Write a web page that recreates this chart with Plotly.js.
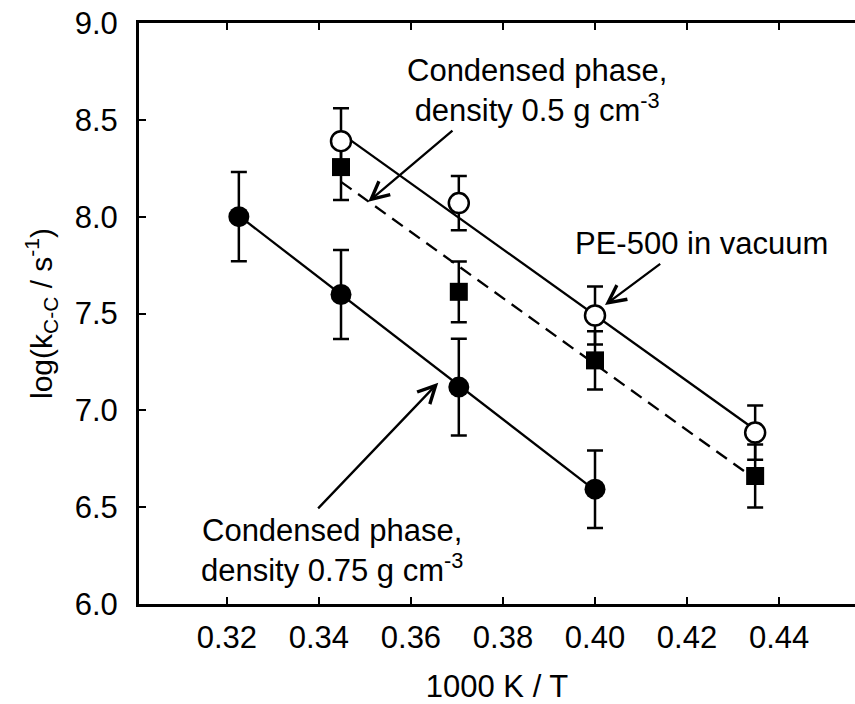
<!DOCTYPE html>
<html>
<head>
<meta charset="utf-8">
<script src="https://cdn.plot.ly/plotly-3.0.1.min.js"></script>
<style>html,body{margin:0;padding:0;background:#fff;}#chart{width:855px;height:704px;}</style>
</head>
<body>
<div id="chart"></div>
<script>
// 1000 K / T values
var xVac = [0.3448, 0.3704, 0.4000, 0.4348];
var yVac = [8.39, 8.07, 7.49, 6.885];
var eVac = [0.17, 0.14, 0.15, 0.14];

var xD05 = [0.3448, 0.3704, 0.4000, 0.4348];
var yD05 = [8.256, 7.612, 7.258, 6.661];
var eD05 = [0.17, 0.157, 0.15, 0.163];

var xD075 = [0.3226, 0.3448, 0.3704, 0.4000];
var yD075 = [8.00, 7.598, 7.12, 6.593];
var eD075 = [0.23, 0.23, 0.25, 0.20];

// fitted lines (end points)
var fitVacX = [0.3448, 0.4348];
var fitVacY = [8.43, 6.90];
var fitD05X = [0.3448, 0.4348];
var fitD05Y = [8.18, 6.645];
var fitD075X = [0.3226, 0.4000];
var fitD075Y = [8.005, 6.587];

var xTicks = [0.32, 0.34, 0.36, 0.38, 0.40, 0.42, 0.44];
var xTickText = ['0.32', '0.34', '0.36', '0.38', '0.40', '0.42', '0.44'];
var yTicks = [6.0, 6.5, 7.0, 7.5, 8.0, 8.5, 9.0];
var yTickText = ['6.0', '6.5', '7.0', '7.5', '8.0', '8.5', '9.0'];

var FONT = 'Arial, "Liberation Sans", Helvetica, sans-serif';

var traces = [
  {x: fitVacX, y: fitVacY, mode: 'lines', line: {color: '#000', width: 2.3}, hoverinfo: 'skip'},
  {x: fitD05X, y: fitD05Y, mode: 'lines', line: {color: '#000', width: 2.3, dash: '13px,8px'}, hoverinfo: 'skip'},
  {x: fitD075X, y: fitD075Y, mode: 'lines', line: {color: '#000', width: 2.3}, hoverinfo: 'skip'},
  {x: xD05, y: yD05, mode: 'markers', marker: {symbol: 'square', size: 18, color: '#000'},
   error_y: {type: 'data', array: eD05, visible: true, color: '#000', thickness: 2.5, width: 8}},
  {x: xVac, y: yVac, mode: 'markers', marker: {symbol: 'circle', size: 20, color: '#fff', line: {color: '#000', width: 2.5}},
   error_y: {type: 'data', array: eVac, visible: true, color: '#000', thickness: 2.5, width: 8}},
  {x: xD075, y: yD075, mode: 'markers', marker: {symbol: 'circle', size: 21, color: '#000'},
   error_y: {type: 'data', array: eD075, visible: true, color: '#000', thickness: 2.5, width: 8}}
];

function arrow(x, y, ax, ay) {
  return {x: x, y: y, xref: 'x', yref: 'y', ax: ax, ay: ay, text: ' ', font: {size: 1},
          showarrow: true, arrowhead: 5, arrowsize: 1.5, arrowwidth: 2.3, arrowcolor: '#000', standoff: 0, startstandoff: 0};
}
function label(px, py, txt) {
  return {xref: 'paper', yref: 'paper', x: px, y: py, text: txt, showarrow: false,
          xanchor: 'center', yanchor: 'middle', align: 'center', font: {family: FONT, size: 31, color: '#000'}};
}

var layout = {
  width: 855, height: 704,
  margin: {l: 139, r: 0, t: 23, b: 100, pad: 0},
  paper_bgcolor: '#fff', plot_bgcolor: '#fff',
  showlegend: false,
  font: {family: FONT, size: 31, color: '#000'},
  xaxis: {
    range: [0.3009, 0.4565], tickvals: xTicks, ticktext: xTickText,
    ticks: 'inside', ticklen: 7, tickwidth: 2, tickcolor: '#000',
    showline: true, linewidth: 3, linecolor: '#000', mirror: 'ticks',
    showgrid: false, zeroline: false, ticklabelstandoff: 4,
    tickfont: {family: FONT, size: 31, color: '#000'},
    title: {text: '1000 K / T', font: {family: FONT, size: 31, color: '#000'}, standoff: 26}
  },
  yaxis: {
    range: [6, 9], tickvals: yTicks, ticktext: yTickText,
    ticks: 'inside', ticklen: 7, tickwidth: 2, tickcolor: '#000',
    showline: true, linewidth: 3, linecolor: '#000', mirror: false,
    showgrid: false, zeroline: false, ticklabelstandoff: 12,
    tickfont: {family: FONT, size: 31, color: '#000'},
    title: {text: 'log(k<sub>C-C</sub> / s<sup>-1</sup>)', font: {family: FONT, size: 30, color: '#000'}, standoff: 14}
  },
  annotations: [
    arrow(0.35072, 8.077, 85.7, -72.4),
    arrow(0.40217, 7.544, 56.7, -42.3),
    arrow(0.36593, 7.143, -121.6, 127.3),
    label(0.5559, 0.883, 'Condensed phase,<br>density 0.5 g cm<sup>-3</sup>'),
    label(0.7859, 0.6213, 'PE-500 in vacuum'),
    label(0.2691, 0.0929, 'Condensed phase,<br>density 0.75 g cm<sup>-3</sup>')
  ]
};

Plotly.newPlot('chart', traces, layout, {staticPlot: true, displayModeBar: false});
</script>
</body>
</html>
